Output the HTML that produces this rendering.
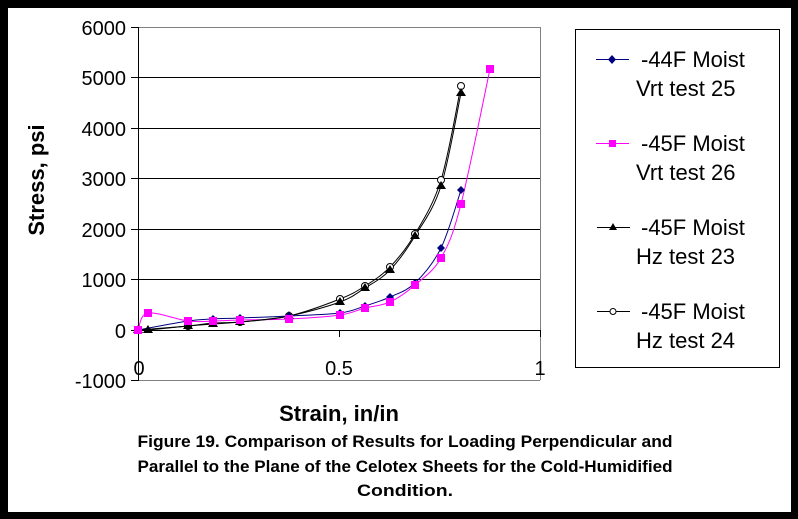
<!DOCTYPE html>
<html><head><meta charset="utf-8"><style>
html,body{margin:0;padding:0;background:#000;}
svg{display:block;}
text{font-family:"Liberation Sans",sans-serif;}
</style></head><body>
<svg id="s" width="798" height="519" xmlns="http://www.w3.org/2000/svg">
<rect x="0" y="0" width="798" height="519" fill="#000"/>
<rect x="8" y="8" width="783" height="504" fill="#fff"/>
<g stroke="#000" stroke-width="1">
<line x1="138" y1="27.5" x2="540" y2="27.5" stroke="#808080"/>
<line x1="138" y1="77.5" x2="540" y2="77.5"/>
<line x1="138" y1="128.5" x2="540" y2="128.5"/>
<line x1="138" y1="178.5" x2="540" y2="178.5"/>
<line x1="138" y1="229.5" x2="540" y2="229.5"/>
<line x1="138" y1="279.5" x2="540" y2="279.5"/>
<line x1="138" y1="330.5" x2="540" y2="330.5"/>
<line x1="138" y1="380.5" x2="540" y2="380.5" stroke="#808080"/>
<line x1="540.5" y1="27" x2="540.5" y2="380" stroke="#808080"/>
<line x1="138.5" y1="27" x2="138.5" y2="381"/>
<line x1="131" y1="27.5" x2="138" y2="27.5"/>
<line x1="131" y1="77.5" x2="138" y2="77.5"/>
<line x1="131" y1="128.5" x2="138" y2="128.5"/>
<line x1="131" y1="178.5" x2="138" y2="178.5"/>
<line x1="131" y1="229.5" x2="138" y2="229.5"/>
<line x1="131" y1="279.5" x2="138" y2="279.5"/>
<line x1="131" y1="330.5" x2="138" y2="330.5"/>
<line x1="131" y1="380.5" x2="138" y2="380.5"/>
<line x1="339.5" y1="330" x2="339.5" y2="337"/>
<line x1="540.5" y1="330" x2="540.5" y2="337"/>
</g>
<g font-size="20" text-anchor="end" fill="#000">
<text x="126" y="35">6000</text>
<text x="126" y="85">5000</text>
<text x="126" y="136">4000</text>
<text x="126" y="186">3000</text>
<text x="126" y="237">2000</text>
<text x="126" y="287">1000</text>
<text x="126" y="338">0</text>
<text x="126" y="388">-1000</text>
</g>
<g font-size="20" text-anchor="middle">
<text x="139" y="375">0</text>
<text x="339" y="375">0.5</text>
<text x="540" y="375">1</text>
</g>
<text transform="translate(44,180) rotate(-90)" font-size="22" font-weight="bold" text-anchor="middle">Stress, psi</text>
<text x="339" y="421" font-size="22" font-weight="bold" text-anchor="middle">Strain, in/in</text>
<g font-size="17" font-weight="bold" text-anchor="middle">
<text x="405" y="447" textLength="535" lengthAdjust="spacingAndGlyphs">Figure 19.  Comparison of Results for Loading Perpendicular and</text>
<text x="405" y="472" textLength="535" lengthAdjust="spacingAndGlyphs">Parallel to the Plane of the Celotex Sheets for the Cold-Humidified</text>
<text x="405" y="496" textLength="96" lengthAdjust="spacingAndGlyphs">Condition.</text>
</g>
<g id="curves" fill="none" stroke-width="1"></g>
<g id="marks"></g>
<rect x="575.5" y="29.5" width="204" height="338" fill="#fff" stroke="#000"/>
<line x1="596" y1="59.5" x2="629" y2="59.5" stroke="#000080"/>
<path d="M612,55l4,4.5l-4,4.5l-4,-4.5z" fill="#000080"/>
<line x1="596" y1="143.5" x2="629" y2="143.5" stroke="#ff00ff"/>
<rect x="609" y="140" width="7" height="7" fill="#ff00ff"/>
<line x1="597" y1="227.5" x2="630" y2="227.5" stroke="#000"/>
<path d="M613,223l4,7h-8z" fill="#000"/>
<line x1="597" y1="311.5" x2="630" y2="311.5" stroke="#000"/>
<circle cx="613" cy="311.5" r="3" fill="#fff" stroke="#000"/>
<g font-size="22">
<text x="641" y="67">-44F Moist</text>
<text x="636" y="96">Vrt test 25</text>
<text x="641" y="151">-45F Moist</text>
<text x="636" y="180">Vrt test 26</text>
<text x="641" y="235">-45F Moist</text>
<text x="636" y="264">Hz test 23</text>
<text x="641" y="319">-45F Moist</text>
<text x="636" y="348">Hz test 24</text>
</g>
</svg>
<script>
var NS="http://www.w3.org/2000/svg";
var series=[
 {c:"#ff00ff",m:"sq",p:[[138,330],[148,313],[188,321],[213,321],[240,320],[289,319],[340,315],[365,308],[390,302],[415,285],[441,258],[461,204],[490,69]]},
 {c:"#000080",m:"di",p:[[138,330],[188,321],[213,319],[240,318],[289,316],[340,313],[365,306],[390,297],[415,283],[441,248],[461,190]]},
 {c:"#000",m:"tr",p:[[138,330],[148,330],[188,326],[213,324],[240,322],[289,316],[340,302],[365,288],[390,270],[415,236],[441,186],[461,93]]},
 {c:"#000",m:"ci",p:[[138,330],[188,326],[213,323],[240,322],[289,316],[340,299],[365,286],[390,267],[415,234],[441,180],[461,86]]}
];
var cg=document.getElementById("curves"),mg=document.getElementById("marks");
function el(t,a,par){var e=document.createElementNS(NS,t);for(var k in a)e.setAttribute(k,a[k]);par.appendChild(e);return e;}
series.forEach(function(s){
 var p=s.p,d="M"+p[0][0]+","+p[0][1],t=0.5/3*2;
 for(var i=0;i<p.length-1;i++){
  var p0=p[i-1]||p[i],p1=p[i],p2=p[i+1],p3=p[i+2]||p2;
  var c1x=p1[0]+(p2[0]-p0[0])/6,c1y=p1[1]+(p2[1]-p0[1])/6;
  var c2x=p2[0]-(p3[0]-p1[0])/6,c2y=p2[1]-(p3[1]-p1[1])/6;
  d+="C"+c1x+","+c1y+" "+c2x+","+c2y+" "+p2[0]+","+p2[1];
 }
 el("path",{d:d,stroke:s.c},cg);
});
series.slice().reverse().forEach(function(s){
 s.p.forEach(function(q){
  var x=q[0],y=q[1];
  if(s.m=="sq")el("rect",{x:x-4,y:y-4,width:8,height:8,fill:s.c},mg);
  else if(s.m=="di")el("path",{d:"M"+x+","+(y-4)+"l4,4l-4,4l-4,-4z",fill:s.c},mg);
  else if(s.m=="tr")el("path",{d:"M"+x+","+(y-5)+"l5,8h-10z",fill:"#000"},mg);
  else el("circle",{cx:x,cy:y,r:3.5,fill:"#fff",stroke:"#000"},mg);
 });
});
</script>
</body></html>
